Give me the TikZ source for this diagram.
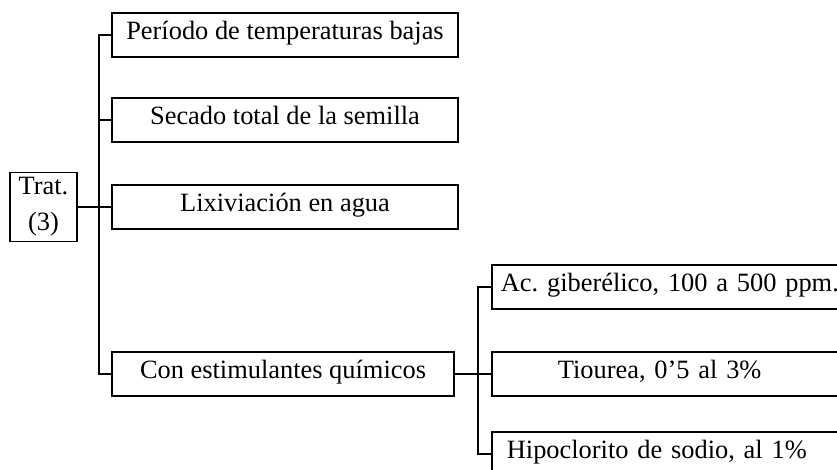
\documentclass[tikz,border=0pt]{standalone}
\usepackage{fontspec}
\setmainfont{Liberation Serif}
\usetikzlibrary{positioning}
\frenchspacing

\begin{document}
\begin{tikzpicture}[x=0.75pt,y=-0.75pt,
    every node/.style={font=\fontsize{19.8}{24}\selectfont},
    mainbox/.style={draw,line width=1.3pt,minimum width=259.5pt,minimum height=33pt,
      inner sep=0pt,text height=0.66em,text depth=0pt},
    subbox/.style={draw,line width=1.3pt,anchor=west,minimum height=33pt,inner ysep=0pt,
      inner xsep=6.75pt,text width=290pt,align=left,text height=0.66em,text depth=0pt},
    link/.style={line width=1.3pt}]
  \useasboundingbox (0,0) rectangle (837,469);
  \clip (0,0) rectangle (837,469);
  \node[draw,line width=1.3pt,minimum width=50.25pt,minimum height=51.75pt,inner sep=0pt,align=center]
    (trat) at (43.5,207) {Trat.\\[3pt](3)};
  \node[mainbox] (periodo) at (285,35) {Período de temperaturas bajas};
  \node[mainbox] (secado) at (285,120) {Secado total de la semilla};
  \node[mainbox] (lixiv) at (285,207) {Lixiviación en agua};
  \node[mainbox,minimum width=256.5pt] (estim) at (283,374) {Con estimulantes químicos};
  \node[subbox] (acgib) at (491,287) {Ac. giberélico, 100 a 500 ppm.};
  \node[subbox] (tiourea) at (491,374) {\hspace*{42.75pt}Tiourea, 0’5 al 3\%};
  \node[subbox] (hipoc) at (491,454) {\hspace*{4.5pt}Hipoclorito de sodio, al 1\%};
  \draw[link] (periodo.west) -- ++(-12,0) |- (estim.west);
  \draw[link] (secado.west) -- ++(-12,0);
  \draw[link] (trat.east) -- (lixiv.west);
  \draw[link] (acgib.west) -- ++(-13,0) |- (hipoc.west);
  \draw[link] (estim.east) -- (tiourea.west);
\end{tikzpicture}
\end{document}
